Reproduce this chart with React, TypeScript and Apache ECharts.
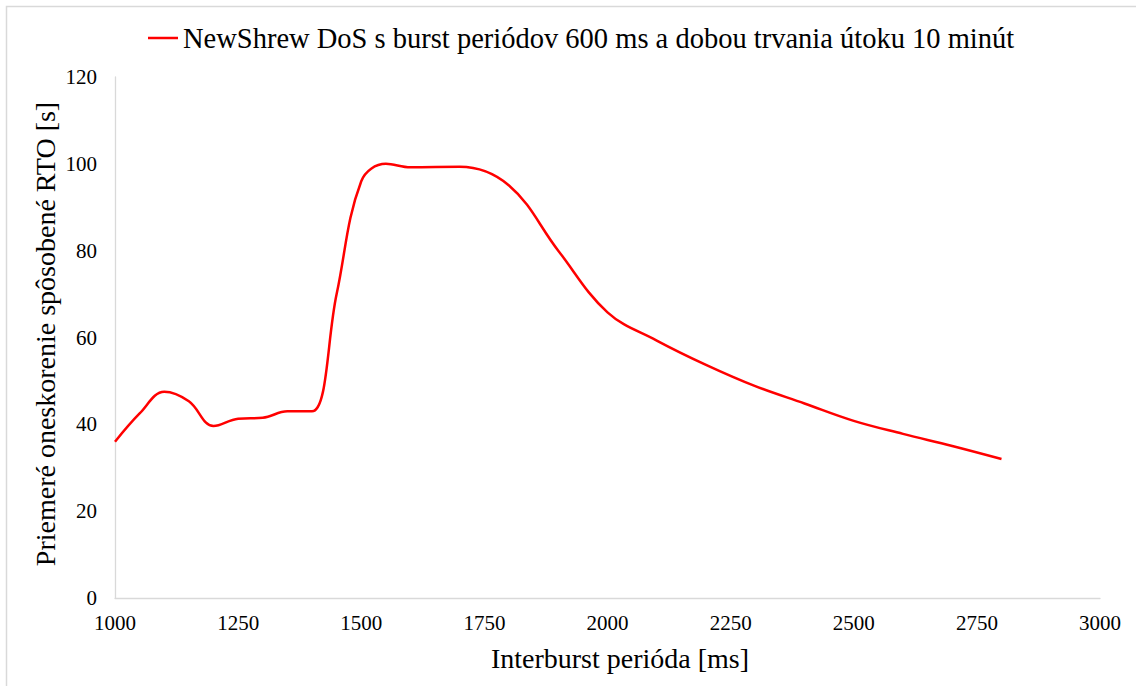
import React, { useEffect, useRef } from "react";
import * as echarts from "echarts";

const seriesName = "NewShrew DoS s burst periódov 600 ms a dobou trvania útoku 10 minút";
const xValues = [1000, 1050, 1100, 1150, 1200, 1250, 1300, 1350, 1400, 1450, 1500, 1550, 1600, 1700, 1800, 1900, 2000, 2100, 2200, 2300, 2400, 2500, 2600, 2700, 2800];
const yValues = [36, 42.5, 47.5, 45.3, 39.6, 41.3, 41.5, 43, 43, 70, 96, 100, 99.2, 99.3, 95, 80, 65.8, 59.3, 53.7, 48.8, 44.8, 40.8, 37.8, 35, 32];
const xAxisTitle = "Interburst perióda [ms]";
const yAxisTitle = "Priemeré oneskorenie spôsobené RTO [s]";

const FONT = "Liberation Serif";

export default function App() {
  const ref = useRef<HTMLDivElement>(null);
  useEffect(() => {
    if (!ref.current) return;
    const chart = echarts.init(ref.current, null, { renderer: "svg" });
    const data = xValues.map((x, i) => [x, yValues[i]]);
    chart.setOption({
      animation: false,
      backgroundColor: "#ffffff",
      textStyle: { fontFamily: FONT },
      graphic: [
        {
          type: "rect",
          shape: { x: 6.5, y: 6.5, width: 1200, height: 800 },
          style: { fill: "none", stroke: "#d9d9d9", lineWidth: 1.5 },
          silent: true,
        },
        {
          type: "line",
          shape: { x1: 148, y1: 38, x2: 178, y2: 38 },
          style: { stroke: "#ff0000", lineWidth: 2.5 },
          silent: true,
        },
        {
          type: "text",
          x: 183,
          y: 38,
          style: {
            text: seriesName,
            fontFamily: FONT,
            fontSize: 28.5,
            fill: "#000",
            textAlign: "left",
            textVerticalAlign: "middle",
            verticalAlign: "middle",
          },
        },
        {
          type: "text",
          x: 620,
          y: 658,
          style: {
            text: xAxisTitle,
            fontFamily: FONT,
            fontSize: 28,
            fill: "#000",
            textAlign: "center",
            textVerticalAlign: "middle",
            verticalAlign: "middle",
          },
        },
        {
          type: "text",
          x: 45,
          y: 334,
          rotation: Math.PI / 2,
          style: {
            text: yAxisTitle,
            fontFamily: FONT,
            fontSize: 28,
            fill: "#000",
            textAlign: "center",
            textVerticalAlign: "middle",
            verticalAlign: "middle",
          },
        },
      ],
      grid: { left: 115, right: 36, top: 77, bottom: 88, containLabel: false },
      xAxis: {
        type: "value",
        min: 1000,
        max: 3000,
        interval: 250,
        axisLine: { show: true, lineStyle: { color: "#d9d9d9", width: 1.3 } },
        axisTick: { show: false },
        splitLine: { show: false },
        axisLabel: {
          fontFamily: FONT,
          fontSize: 21,
          color: "#000",
          margin: 14,
          formatter: (v: number) => String(v),
        },
      },
      yAxis: {
        type: "value",
        min: 0,
        max: 120,
        interval: 20,
        axisLine: { show: true, lineStyle: { color: "#d9d9d9", width: 1.3 } },
        axisTick: { show: false },
        splitLine: { show: false },
        axisLabel: { fontFamily: FONT, fontSize: 21, color: "#000", margin: 18 },
      },
      series: [
        {
          name: seriesName,
          type: "line",
          data,
          smooth: 0.38,
          showSymbol: false,
          symbol: "none",
          lineStyle: { color: "#ff0000", width: 2.5 },
          itemStyle: { color: "#ff0000" },
        },
      ],
    });
    return () => chart.dispose();
  }, []);
  return (
    <div
      ref={ref}
      style={{ position: "absolute", left: 0, top: 0, width: 1136, height: 686 }}
    />
  );
}
